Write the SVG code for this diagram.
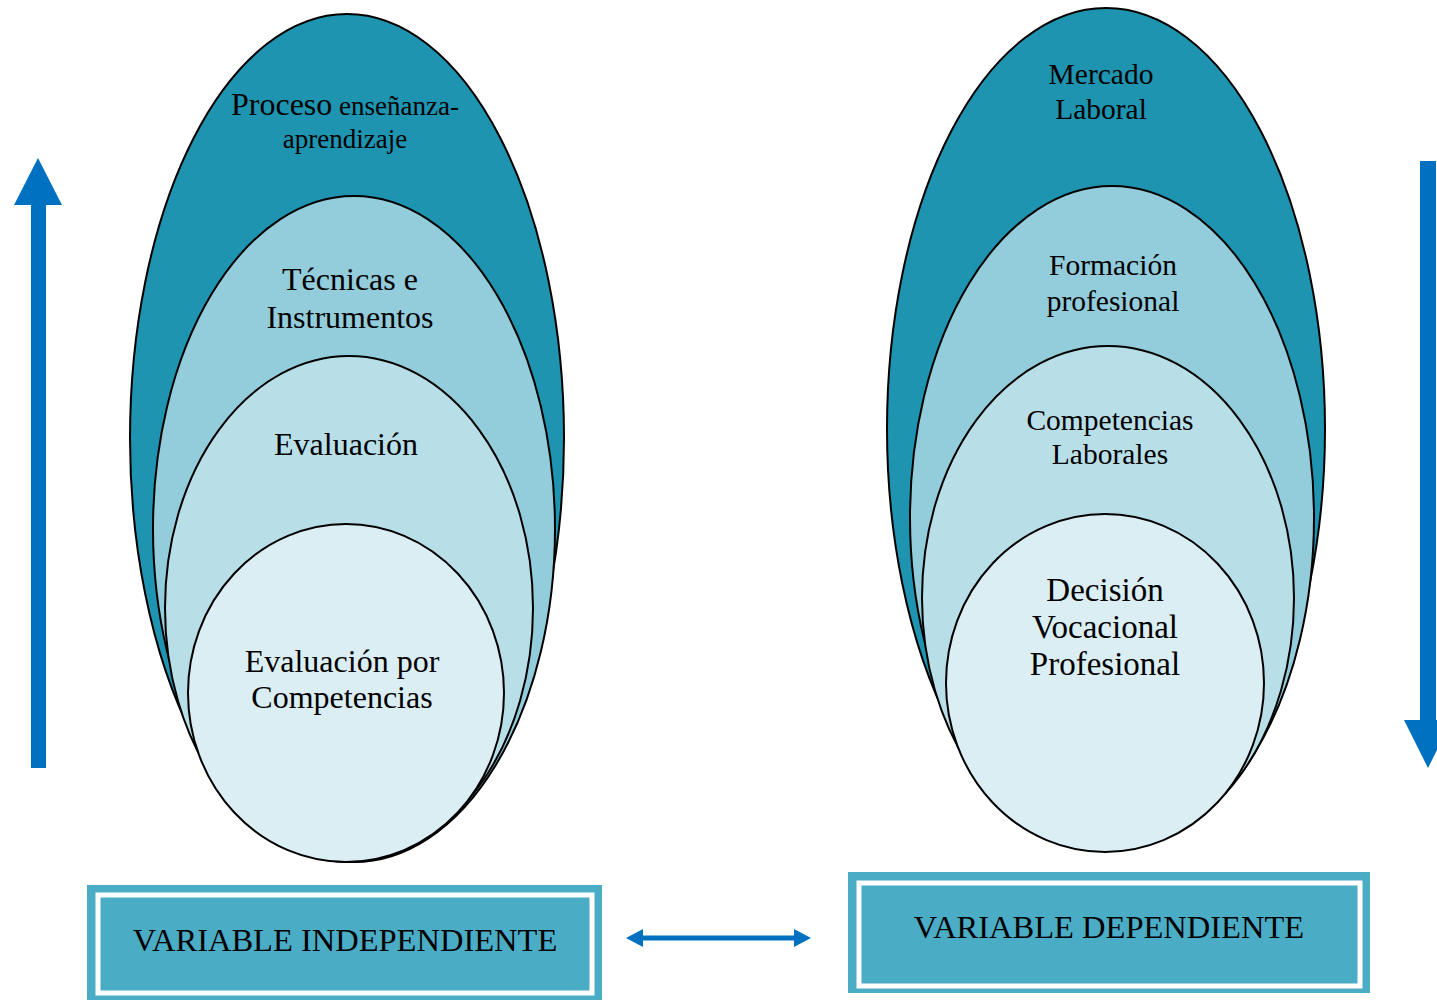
<svg xmlns="http://www.w3.org/2000/svg" width="1437" height="1000" viewBox="0 0 1437 1000">
<defs>
<style>
.l1{fill:#1e94b1;stroke:#000;stroke-width:2}
.l2{fill:#93cddb;stroke:#000;stroke-width:2}
.l3{fill:#b8dfe8;stroke:#000;stroke-width:2}
.l4{fill:#daeef4;stroke:#000;stroke-width:2}
text{font-family:"Liberation Serif","Times New Roman",serif;fill:#000;text-anchor:middle}
.t{font-size:32px}
.s{font-size:27px}
.r{font-size:29.5px}
.d{font-size:33px}
.b{font-size:32.5px}
.box{fill:#4bacc6}
.inner{fill:none;stroke:#fff;stroke-width:5}
.arr{fill:#0070c0}
</style>
</defs>
<g id="left-1"><ellipse class="l1" cx="347" cy="438" rx="217" ry="424"/></g>
<g id="left-2"><ellipse class="l2" cx="354" cy="529" rx="201" ry="333"/></g>
<g id="left-3"><ellipse class="l3" cx="349" cy="608" rx="184" ry="252"/></g>
<g id="left-4"><ellipse class="l4" cx="346" cy="693" rx="158" ry="169"/></g>
<g id="left-texts">
<text x="345" y="115"><tspan class="t">Proceso</tspan><tspan class="s"> enseñanza-</tspan></text>
<text class="s" x="345" y="148">aprendizaje</text>
<text class="t" x="350" y="290">Técnicas e</text>
<text class="t" x="350" y="328">Instrumentos</text>
<text class="t" x="346" y="455">Evaluación</text>
<text class="t" x="342" y="672">Evaluación por</text>
<text class="t" x="342" y="708">Competencias</text>
</g>
<g id="right-1"><ellipse class="l1" cx="1106" cy="429" rx="219" ry="421"/></g>
<g id="right-2"><ellipse class="l2" cx="1112" cy="518" rx="202" ry="332"/></g>
<g id="right-3"><ellipse class="l3" cx="1108" cy="598" rx="186" ry="252"/></g>
<g id="right-4"><ellipse class="l4" cx="1105" cy="683" rx="159" ry="169"/></g>
<g id="right-texts">
<text class="r" x="1101" y="84">Mercado</text>
<text class="r" x="1101" y="119">Laboral</text>
<text class="r" x="1113" y="275">Formación</text>
<text class="r" x="1113" y="311">profesional</text>
<text class="r" x="1110" y="430">Competencias</text>
<text class="r" x="1110" y="464">Laborales</text>
<text class="d" x="1105" y="601">Decisión</text>
<text class="d" x="1105" y="638">Vocacional</text>
<text class="d" x="1105" y="675">Profesional</text>
</g>
<g id="box-independiente">
<rect class="box" x="87" y="885" width="515" height="115"/>
<rect class="inner" x="98" y="895" width="494" height="98"/>
<text class="b" x="345" y="951">VARIABLE INDEPENDIENTE</text>
</g>
<g id="box-dependiente">
<rect class="box" x="848" y="872" width="522" height="121"/>
<rect class="inner" x="859" y="883" width="501" height="103"/>
<text class="b" x="1109" y="938">VARIABLE DEPENDIENTE</text>
</g>
<g id="connectors">
<polygon class="arr" points="31,768 46,768 46,205 62,205 38,158 14,205 31,205"/>
<polygon class="arr" points="1420,161 1436,161 1436,720 1452,720 1428,768 1404,720 1420,720"/>
<polygon class="arr" points="626,938 643,929 643,935.5 794,935.5 794,929 811,938 794,947 794,940.5 643,940.5 643,947"/>
</g>
</svg>
